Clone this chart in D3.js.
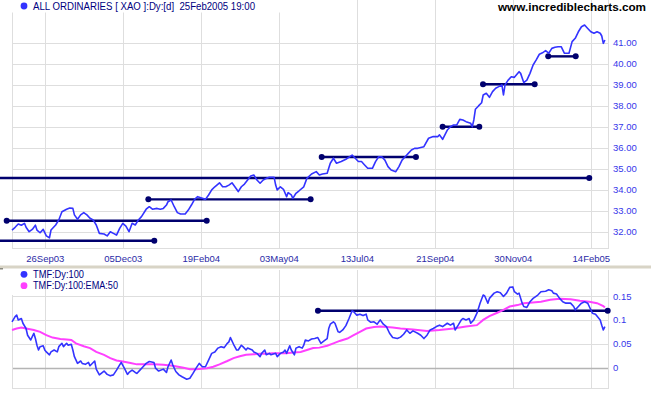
<!DOCTYPE html>
<html><head><meta charset="utf-8">
<script src="https://cdn.jsdelivr.net/npm/d3@7/dist/d3.min.js"></script>
<style>body{margin:0;background:#fff}svg{display:block}</style>
</head><body>
<svg id="c" width="651" height="395"></svg>
<script>
// ---- data (x = trading-day number, day 0 = first bar shown) ----
const tickDays   = [21, 71, 121, 171, 221, 271, 321, 371];
const tickLabels = ["26Sep03","05Dec03","19Feb04","03May04","13Jul04","21Sep04","30Nov04","14Feb05"];
const priceTicks = [32,33,34,35,36,37,38,39,40,41];
const tmfTicks   = [0,0.05,0.1,0.15];

const priceDays = [0,2,4,6,8,9,11,13,15,16,18,20,22,24,25,28,30,32,35,37,39,40,42,44,46,48,50,52,54,56,59,61,63,65,67,69,71,73,75,77,79,81,83,86,88,90,93,95,97,99,100,102,104,106,108,111,113,115,117,119,122,124,126,128,130,133,135,137,139,141,144,145,147,149,151,153,155,157,159,161,163,165,168,169,170,172,174,176,177,179,180,182,184,187,189,192,195,197,199,202,204,206,208,211,214,218,220,222,224,226,228,231,233,235,237,239,241,243,246,248,250,252,254,256,258,260,264,267,270,273,274,276,279,281,283,285,287,289,291,294,295,296,297,299,301,302,304,306,308,310,312,314,315,316,318,320,322,325,326,328,330,332,334,336,338,340,342,344,346,348,350,352,354,357,359,361,363,365,367,369,371,373,375,377,378,379,380];
const priceClose = [32.07,32.20,32.36,32.30,32.39,32.20,31.99,32.10,32.30,32.07,31.94,32.10,31.79,31.70,32.07,32.31,32.55,32.94,33.06,33.12,33.10,32.79,32.58,32.79,32.90,32.79,32.63,32.55,32.31,31.91,31.88,31.79,31.99,31.91,31.83,32.15,32.39,32.26,31.99,32.39,32.31,32.55,32.71,33.06,33.18,33.06,33.10,33.06,33.10,33.26,33.42,33.50,33.18,32.90,32.83,32.83,33.02,33.26,33.53,33.66,33.58,33.53,33.74,33.98,34.13,34.32,34.13,34.13,34.21,34.32,34.01,33.90,34.13,34.26,34.45,34.64,34.69,34.45,34.30,34.45,34.53,34.58,34.58,34.21,33.98,34.13,34.01,33.66,33.85,33.74,33.58,33.82,33.94,34.13,34.53,34.74,34.85,34.69,34.74,34.77,35.25,35.49,35.25,35.33,35.44,35.64,35.49,35.33,35.33,35.17,35.01,35.01,35.33,35.56,35.56,35.40,35.09,34.93,34.85,35.09,35.40,35.56,35.72,35.88,35.96,35.96,36.04,36.44,36.52,36.52,36.60,36.39,36.83,36.99,37.07,37.07,37.34,37.31,37.23,37.15,36.99,37.31,37.82,37.98,38.13,38.50,38.58,38.39,38.66,38.82,38.90,38.98,38.50,38.98,39.21,39.37,39.34,39.61,39.53,39.09,39.21,39.53,39.93,40.17,40.44,40.51,40.61,40.49,40.72,40.77,40.80,40.80,40.49,40.49,41.04,41.20,41.51,41.75,41.83,41.67,41.51,41.44,41.51,41.44,41.31,40.96,41.12];

const tmfDays = [0,2,3,4,6,7,9,10,12,13,14,15,16,17,18,20,21,22,24,25,27,29,30,32,33,35,36,38,39,40,42,44,45,47,49,50,53,54,56,59,61,63,65,67,69,70,72,74,75,77,79,80,82,84,86,88,91,92,94,97,99,100,102,103,105,107,109,112,114,116,118,120,122,124,126,128,130,132,134,136,138,139,140,142,144,145,147,148,150,151,154,155,157,159,160,162,163,165,166,169,170,172,174,175,176,178,179,181,182,184,186,187,188,190,192,194,196,198,200,202,203,204,206,207,209,210,212,214,216,218,219,221,223,225,227,228,230,232,234,236,238,240,242,244,247,249,251,253,255,257,260,262,264,266,268,270,272,274,276,279,281,283,284,286,288,289,291,293,294,296,298,300,302,303,305,306,309,311,313,315,317,319,321,322,324,325,327,328,330,332,334,337,339,342,344,346,347,349,351,353,355,358,360,361,363,365,367,369,370,372,374,377,378,379,380];
const tmfValues = [0.096,0.107,0.110,0.100,0.103,0.093,0.082,0.068,0.058,0.065,0.072,0.061,0.047,0.037,0.044,0.046,0.037,0.033,0.027,0.033,0.037,0.033,0.044,0.051,0.044,0.051,0.047,0.049,0.037,0.023,0.009,0.014,0.009,0.007,0.011,0.004,0.014,-0.003,-0.015,-0.007,-0.014,-0.017,-0.015,-0.005,0.006,0.011,-0.001,-0.014,-0.010,-0.005,-0.010,-0.012,-0.005,0.002,0.009,0.013,0.011,-0.001,-0.007,-0.003,-0.010,0.002,0.016,0.006,-0.008,-0.015,-0.019,-0.024,-0.022,-0.012,-0.001,0.009,0.002,0.002,0.016,0.030,0.033,0.041,0.044,0.042,0.051,0.054,0.063,0.049,0.037,0.037,0.047,0.044,0.037,0.041,0.037,0.033,0.030,0.023,0.030,0.037,0.027,0.030,0.027,0.030,0.023,0.030,0.033,0.037,0.030,0.046,0.037,0.027,0.041,0.044,0.041,0.047,0.058,0.056,0.060,0.061,0.063,0.051,0.056,0.061,0.082,0.091,0.096,0.093,0.075,0.074,0.079,0.088,0.103,0.119,0.117,0.110,0.112,0.109,0.112,0.100,0.095,0.096,0.091,0.100,0.091,0.086,0.072,0.063,0.061,0.064,0.070,0.079,0.072,0.077,0.072,0.068,0.061,0.068,0.079,0.082,0.086,0.089,0.086,0.093,0.089,0.093,0.079,0.089,0.100,0.103,0.100,0.103,0.093,0.100,0.114,0.135,0.152,0.150,0.135,0.145,0.156,0.159,0.157,0.149,0.156,0.168,0.169,0.159,0.154,0.156,0.135,0.128,0.126,0.138,0.145,0.152,0.159,0.160,0.163,0.161,0.156,0.154,0.145,0.138,0.135,0.135,0.128,0.121,0.128,0.135,0.138,0.135,0.128,0.114,0.112,0.100,0.089,0.079,0.086];

const emaDays = [0,3,6,9,14,18,22,26,31,35,38,41,46,50,54,59,63,67,71,76,80,84,91,97,103,110,114,118,125,129,133,138,142,146,150,155,159,163,167,172,176,180,185,189,193,197,202,206,210,215,219,223,227,232,236,240,244,249,257,266,274,283,291,298,302,306,311,315,319,324,328,332,339,345,351,358,364,370,375,379,380];
const emaValues = [0.079,0.082,0.084,0.082,0.079,0.075,0.068,0.063,0.060,0.059,0.058,0.051,0.045,0.041,0.033,0.027,0.020,0.015,0.013,0.010,0.007,0.007,0.007,0.006,0.004,0.000,-0.003,-0.003,-0.001,0.002,0.007,0.014,0.020,0.024,0.027,0.028,0.029,0.029,0.030,0.030,0.030,0.032,0.033,0.037,0.041,0.042,0.046,0.051,0.056,0.061,0.068,0.075,0.082,0.085,0.086,0.085,0.084,0.082,0.080,0.077,0.079,0.082,0.086,0.089,0.100,0.108,0.115,0.121,0.128,0.131,0.135,0.136,0.138,0.142,0.144,0.143,0.140,0.138,0.135,0.129,0.126];

// drawn trend/support lines (start day, end day, level)
const supportStart = [-12, -3.4, -12, 87.4, 198.5, 276.0, 301.9, 343.7];
const supportEnd   = [370.0, 124.8, 91.2, 191.4, 258.9, 299.5, 335.0, 361.3];
const supportLevel = [34.55, 32.51, 31.56, 33.53, 35.55, 36.99, 39.01, 40.34];
const tmfLineStart = [196.1], tmfLineEnd = [381.8], tmfLineLevel = [0.119];

// ---- drawing ----
const svg = d3.select("#c");
const FONT = "'Liberation Sans', Arial, sans-serif";
const L = 12, R = 608;
const topT = 0, topB = 248, botT = 270, botB = 388;
const x = d3.scaleLinear().domain([0, 382]).range([L, R]);
const yP = d3.scaleLinear().domain([32, 41]).range([231.5, 42.5]);
const yT = d3.scaleLinear().domain([0, 0.15]).range([367.7, 296]);
const GRID = "#dedede", NAVY = "#00006e", BLUE = "#3333ff", MAG = "#ff40ff";

function panelGrid(yS, ticks, t, b, zeroDark) {
  const g = svg.append("g");
  g.selectAll(".v").data(tickDays).join("line")
    .attr("x1", d => Math.round(x(d)) + 0.5).attr("x2", d => Math.round(x(d)) + 0.5)
    .attr("y1", t).attr("y2", b).attr("stroke", GRID);
  g.selectAll(".h").data(ticks).join("line")
    .attr("x1", L).attr("x2", R)
    .attr("y1", d => Math.round(yS(d)) + 0.5).attr("y2", d => Math.round(yS(d)) + 0.5)
    .attr("stroke", d => (zeroDark && d === 0) ? "#b4b4b4" : GRID).attr("stroke-width", d => (zeroDark && d === 0) ? 1.3 : 1);
  // frame
  g.append("line").attr("x1", L + 0.5).attr("x2", L + 0.5).attr("y1", t).attr("y2", b).attr("stroke", GRID);
  g.append("line").attr("x1", R + 0.5).attr("x2", R + 0.5).attr("y1", t).attr("y2", b).attr("stroke", GRID);
  g.append("line").attr("x1", L).attr("x2", R + 1).attr("y1", b + 0.5).attr("y2", b + 0.5).attr("stroke", GRID);
}
panelGrid(yP, priceTicks, topT, topB, false);
panelGrid(yT, tmfTicks, botT, botB, true);

// legend background boxes
svg.append("rect").attr("x", 0).attr("y", 0).attr("width", 345).attr("height", 12.5).attr("fill", "#fff");
svg.append("rect").attr("x", 0).attr("y", botT).attr("width", 31).attr("height", 25).attr("fill", "#fff");

// separator band
svg.append("rect").attr("x", 0).attr("y", 265.5).attr("width", 651).attr("height", 3).attr("fill", "#d8d4c6");
svg.append("rect").attr("x", 0).attr("y", 268).attr("width", 3).attr("height", 1.5).attr("fill", "#8a8a80");

// axes
const axX = d3.axisBottom(x).tickValues(tickDays).tickFormat((d, i) => tickLabels[i]).tickSize(0).tickPadding(7);
const gx = svg.append("g").attr("transform", `translate(0,${topB})`).call(axX);
gx.select(".domain").remove();
gx.selectAll("text").attr("font-family", FONT).attr("font-size", "9.5px").attr("fill", "#2a2aa6");

const axP = d3.axisRight(yP).tickValues(priceTicks).tickFormat(d3.format(".2f")).tickSize(0).tickPadding(5);
const gp = svg.append("g").attr("transform", `translate(${R},0)`).call(axP);
gp.select(".domain").remove();
gp.selectAll("text").attr("font-family", FONT).attr("font-size", "9.5px").attr("fill", "#3737ea");

const axT = d3.axisRight(yT).tickValues(tmfTicks).tickFormat(d => String(+d.toFixed(2))).tickSize(0).tickPadding(5);
const gt = svg.append("g").attr("transform", `translate(${R},0)`).call(axT);
gt.select(".domain").remove();
gt.selectAll("text").attr("font-family", FONT).attr("font-size", "9.5px").attr("fill", "#3737ea");

// support lines (top)
const sup = d3.range(supportLevel.length).map(i => ({s: supportStart[i], e: supportEnd[i], v: supportLevel[i]}));
svg.append("g").selectAll("line").data(sup).join("line")
  .attr("x1", d => x(d.s)).attr("x2", d => x(d.e))
  .attr("y1", d => yP(d.v)).attr("y2", d => yP(d.v))
  .attr("stroke", NAVY).attr("stroke-width", 2.4);
svg.append("g").selectAll("circle").data(sup.flatMap(d => [[d.s, d.v], [d.e, d.v]])).join("circle")
  .attr("cx", d => x(d[0])).attr("cy", d => yP(d[1])).attr("r", 3).attr("fill", NAVY);

// price line
const lineP = d3.line().x(d => x(d[0])).y(d => yP(d[1]));
svg.append("path").datum(d3.zip(priceDays, priceClose)).attr("d", lineP)
  .attr("fill", "none").attr("stroke", BLUE).attr("stroke-width", 1.6).attr("stroke-linejoin", "round");

// TMF support line
const tl = tmfLineLevel.map((v, i) => ({s: tmfLineStart[i], e: tmfLineEnd[i], v}));
svg.append("g").selectAll("line").data(tl).join("line")
  .attr("x1", d => x(d.s)).attr("x2", d => x(d.e))
  .attr("y1", d => yT(d.v)).attr("y2", d => yT(d.v))
  .attr("stroke", NAVY).attr("stroke-width", 2.4);
svg.append("g").selectAll("circle").data(tl.flatMap(d => [[d.s, d.v], [d.e, d.v]])).join("circle")
  .attr("cx", d => x(d[0])).attr("cy", d => yT(d[1])).attr("r", 3).attr("fill", NAVY);

// EMA and TMF
const lineT = d3.line().x(d => x(d[0])).y(d => yT(d[1]));
svg.append("path").datum(d3.zip(emaDays, emaValues)).attr("d", lineT)
  .attr("fill", "none").attr("stroke", MAG).attr("stroke-width", 2);
svg.append("path").datum(d3.zip(tmfDays, tmfValues)).attr("d", lineT)
  .attr("fill", "none").attr("stroke", BLUE).attr("stroke-width", 1.6).attr("stroke-linejoin", "round");

// legends
svg.append("circle").attr("cx", 24).attr("cy", 6).attr("r", 3.4).attr("fill", BLUE);
svg.append("text").attr("x", 33).attr("y", 10).attr("font-family", FONT).attr("font-size", "10px")
  .attr("fill", "#000080").attr("textLength", 222).attr("lengthAdjust", "spacingAndGlyphs")
  .text("ALL ORDINARIES [ XAO ]:Dy:[d]  25Feb2005 19:00").attr("xml:space", "preserve");
svg.append("text").attr("x", 498).attr("y", 10.5).attr("font-family", FONT).attr("font-size", "11px")
  .attr("font-weight", "bold").attr("fill", "#000").attr("textLength", 148).attr("lengthAdjust", "spacingAndGlyphs")
  .text("www.incrediblecharts.com");

svg.append("circle").attr("cx", 24).attr("cy", 274.3).attr("r", 3.4).attr("fill", BLUE);
svg.append("circle").attr("cx", 24).attr("cy", 285.7).attr("r", 3.4).attr("fill", MAG);
svg.append("text").attr("x", 33).attr("y", 277.8).attr("font-family", FONT).attr("font-size", "10px")
  .attr("fill", "#000080").attr("textLength", 51).attr("lengthAdjust", "spacingAndGlyphs").text("TMF:Dy:100");
svg.append("text").attr("x", 33).attr("y", 289.2).attr("font-family", FONT).attr("font-size", "10px")
  .attr("fill", "#000080").attr("textLength", 85).attr("lengthAdjust", "spacingAndGlyphs").text("TMF:Dy:100:EMA:50");
</script>
</body></html>
